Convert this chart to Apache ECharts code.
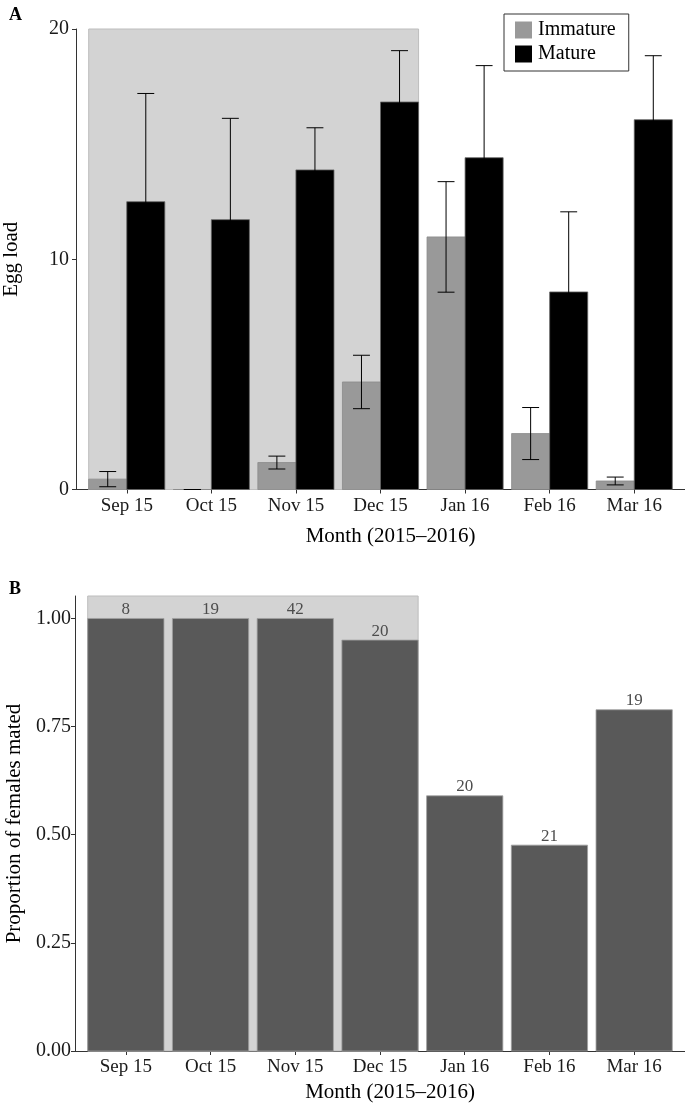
<!DOCTYPE html>
<html><head><meta charset="utf-8">
<script src="https://cdn.jsdelivr.net/npm/echarts@6/dist/echarts.min.js"></script>
<style>html,body{margin:0;padding:0;background:#fff}#c{width:685px;height:1107px}</style>
</head><body><div id="c"></div>
<script>
// ---- data ----
const months = ['Sep 15','Oct 15','Nov 15','Dec 15','Jan 16','Feb 16','Mar 16'];
const immatureMean = [0.45, 0, 1.17, 4.67, 10.97, 2.43, 0.37];
const immatureSE   = [0.33, 0, 0.28, 1.16, 2.40, 1.13, 0.17];
const matureMean   = [12.5, 11.72, 13.88, 16.83, 14.41, 8.58, 16.06];
const matureSE     = [4.70, 4.40, 1.83, 2.23, 4.00, 3.48, 2.78];
const propMated    = [1, 1, 1, 0.95, 0.59, 0.476, 0.789];
const sampleSize   = [8, 19, 42, 20, 20, 21, 19];
const shadedMonths = ['Sep 15', 'Dec 15'];
const eggTicks  = [0, 10, 20];
const propTicks = [0, 0.25, 0.5, 0.75, 1];

// ---- helpers ----
const FONT = 'Liberation Serif';
const pos = months.map((m, i) => i + 1);
const shadeFrom = months.indexOf(shadedMonths[0]) + 1 - 0.45;
const shadeTo = months.indexOf(shadedMonths[1]) + 1 + 0.45;

function shadeRender(params, api) {
  const cs = params.coordSys;
  const a = api.coord([api.value(0), 0]);
  const b = api.coord([api.value(1), 0]);
  return { type: 'rect', shape: { x: a[0], y: cs.y, width: b[0] - a[0], height: cs.height },
    style: { fill: '#d3d3d3', stroke: '#bdbdbd', lineWidth: 1 } };
}
function barRender(offset, width, fill, stroke, withLabel) {
  return function (params, api) {
    const x = api.value(0), v = api.value(1);
    const a = api.coord([x + offset - width / 2, v]);
    const b = api.coord([x + offset + width / 2, 0]);
    const rect = { type: 'rect', shape: { x: a[0], y: a[1], width: b[0] - a[0], height: b[1] - a[1] },
      style: { fill: fill, stroke: stroke, lineWidth: 0.8 } };
    if (!withLabel) return rect;
    return { type: 'group', children: [rect, { type: 'text', style: {
      text: String(api.value(2)), x: (a[0] + b[0]) / 2, y: a[1] - 0.5,
      textAlign: 'center', textVerticalAlign: 'bottom', fill: '#4d4d4d',
      font: '17px "' + FONT + '"' } }] };
  };
}
function errRender(offset) {
  return function (params, api) {
    const x = api.value(0) + offset;
    const lo = api.coord([x, api.value(1)]);
    const hi = api.coord([x, api.value(2)]);
    const l = api.coord([x - 0.1, 0])[0], r = api.coord([x + 0.1, 0])[0];
    const st = { stroke: '#000', lineWidth: 1 };
    return { type: 'group', children: [
      { type: 'line', shape: { x1: lo[0], y1: lo[1], x2: hi[0], y2: hi[1] }, style: st },
      { type: 'line', shape: { x1: l, y1: lo[1], x2: r, y2: lo[1] }, style: st },
      { type: 'line', shape: { x1: l, y1: hi[1], x2: r, y2: hi[1] }, style: st }
    ] };
  };
}
function xAxis(gridIndex, nameGap) {
  return {
    type: 'value', gridIndex: gridIndex, min: 0.4, max: 7.6,
    axisLine: { show: true, onZero: false, lineStyle: { color: '#333', width: 1 } },
    axisTick: { show: true, customValues: pos, length: 4, lineStyle: { color: '#333' } },
    axisLabel: { customValues: pos, formatter: v => months[Math.round(v) - 1], margin: 7,
      fontFamily: FONT, fontSize: 19, color: '#1a1a1a' },
    splitLine: { show: false },
    name: 'Month (2015\u20132016)', nameLocation: 'middle', nameGap: nameGap,
    nameTextStyle: { fontFamily: FONT, fontSize: 21, color: '#000', padding: [0, 0, 0, 20] }
  };
}
function yAxis(gridIndex, max, ticks, fmt, name, margin, nameGap) {
  return {
    type: 'value', gridIndex: gridIndex, min: 0, max: max,
    axisLine: { show: true, onZero: false, lineStyle: { color: '#333', width: 1 } },
    axisTick: { show: true, customValues: ticks, length: 4, lineStyle: { color: '#333' } },
    axisLabel: { customValues: ticks, formatter: fmt, margin: margin,
      fontFamily: FONT, fontSize: 20, color: '#1a1a1a' },
    splitLine: { show: false },
    name: name, nameLocation: 'middle', nameGap: nameGap, nameRotate: 90,
    nameTextStyle: { fontFamily: FONT, fontSize: 21, color: '#000' }
  };
}

const chart = echarts.init(document.getElementById('c'), null, { renderer: 'canvas' });
chart.setOption({
  animation: false,
  backgroundColor: '#fff',
  title: [
    { text: 'A', left: 4, top: 1, textStyle: { fontFamily: FONT, fontSize: 18, fontWeight: 'bold', color: '#000' } },
    { text: 'B', left: 4, top: 575, textStyle: { fontFamily: FONT, fontSize: 18, fontWeight: 'bold', color: '#000' } }
  ],
  legend: {
    data: [
      { name: 'Immature', icon: 'rect', itemStyle: { color: '#999999' } },
      { name: 'Mature', icon: 'rect', itemStyle: { color: '#000000' } }
    ],
    left: 504, top: 14, orient: 'vertical',
    padding: [6, 13, 7, 11], itemWidth: 17, itemHeight: 17, itemGap: 4,
    borderColor: '#333', borderWidth: 1, backgroundColor: '#fff',
    selectedMode: false,
    textStyle: { fontFamily: FONT, fontSize: 20, color: '#000', padding: [0, 0, 0, 1] }
  },
  grid: [
    { left: 76, right: 0, top: 29, height: 460.5, outerBoundsMode: 'none' },
    { left: 75, right: 0, top: 596, height: 455, outerBoundsMode: 'none' }
  ],
  xAxis: [xAxis(0, 36), xAxis(1, 31)],
  yAxis: [
    yAxis(0, 20, eggTicks, v => String(v), 'Egg load', 7, 54),
    yAxis(1, 1.052, propTicks, v => v.toFixed(2), 'Proportion of females mated', 4, 50)
  ],
  series: [
    { type: 'custom', name: 'shadeA', xAxisIndex: 0, yAxisIndex: 0, renderItem: shadeRender,
      data: [[shadeFrom, shadeTo]], z: 1, silent: true },
    { type: 'custom', name: 'Immature', xAxisIndex: 0, yAxisIndex: 0, itemStyle: { color: '#999999' },
      renderItem: barRender(-0.225, 0.45, '#999999', '#8a8a8a', false),
      data: pos.map((x, i) => [x, immatureMean[i]]), z: 2 },
    { type: 'custom', name: 'Mature', xAxisIndex: 0, yAxisIndex: 0, itemStyle: { color: '#000000' },
      renderItem: barRender(0.225, 0.45, '#000000', '#666666', false),
      data: pos.map((x, i) => [x, matureMean[i]]), z: 2 },
    { type: 'custom', name: 'errImm', xAxisIndex: 0, yAxisIndex: 0, renderItem: errRender(-0.225),
      data: pos.map((x, i) => [x, immatureMean[i] - immatureSE[i], immatureMean[i] + immatureSE[i]]), z: 3 },
    { type: 'custom', name: 'errMat', xAxisIndex: 0, yAxisIndex: 0, renderItem: errRender(0.225),
      data: pos.map((x, i) => [x, matureMean[i] - matureSE[i], matureMean[i] + matureSE[i]]), z: 3 },
    { type: 'custom', name: 'shadeB', xAxisIndex: 1, yAxisIndex: 1, renderItem: shadeRender,
      data: [[shadeFrom, shadeTo]], z: 1, silent: true },
    { type: 'custom', name: 'Mated', xAxisIndex: 1, yAxisIndex: 1,
      renderItem: barRender(0, 0.9, '#595959', '#a0a0a0', true),
      data: pos.map((x, i) => [x, propMated[i], sampleSize[i]]), z: 2 }
  ]
});
</script>
</body></html>
